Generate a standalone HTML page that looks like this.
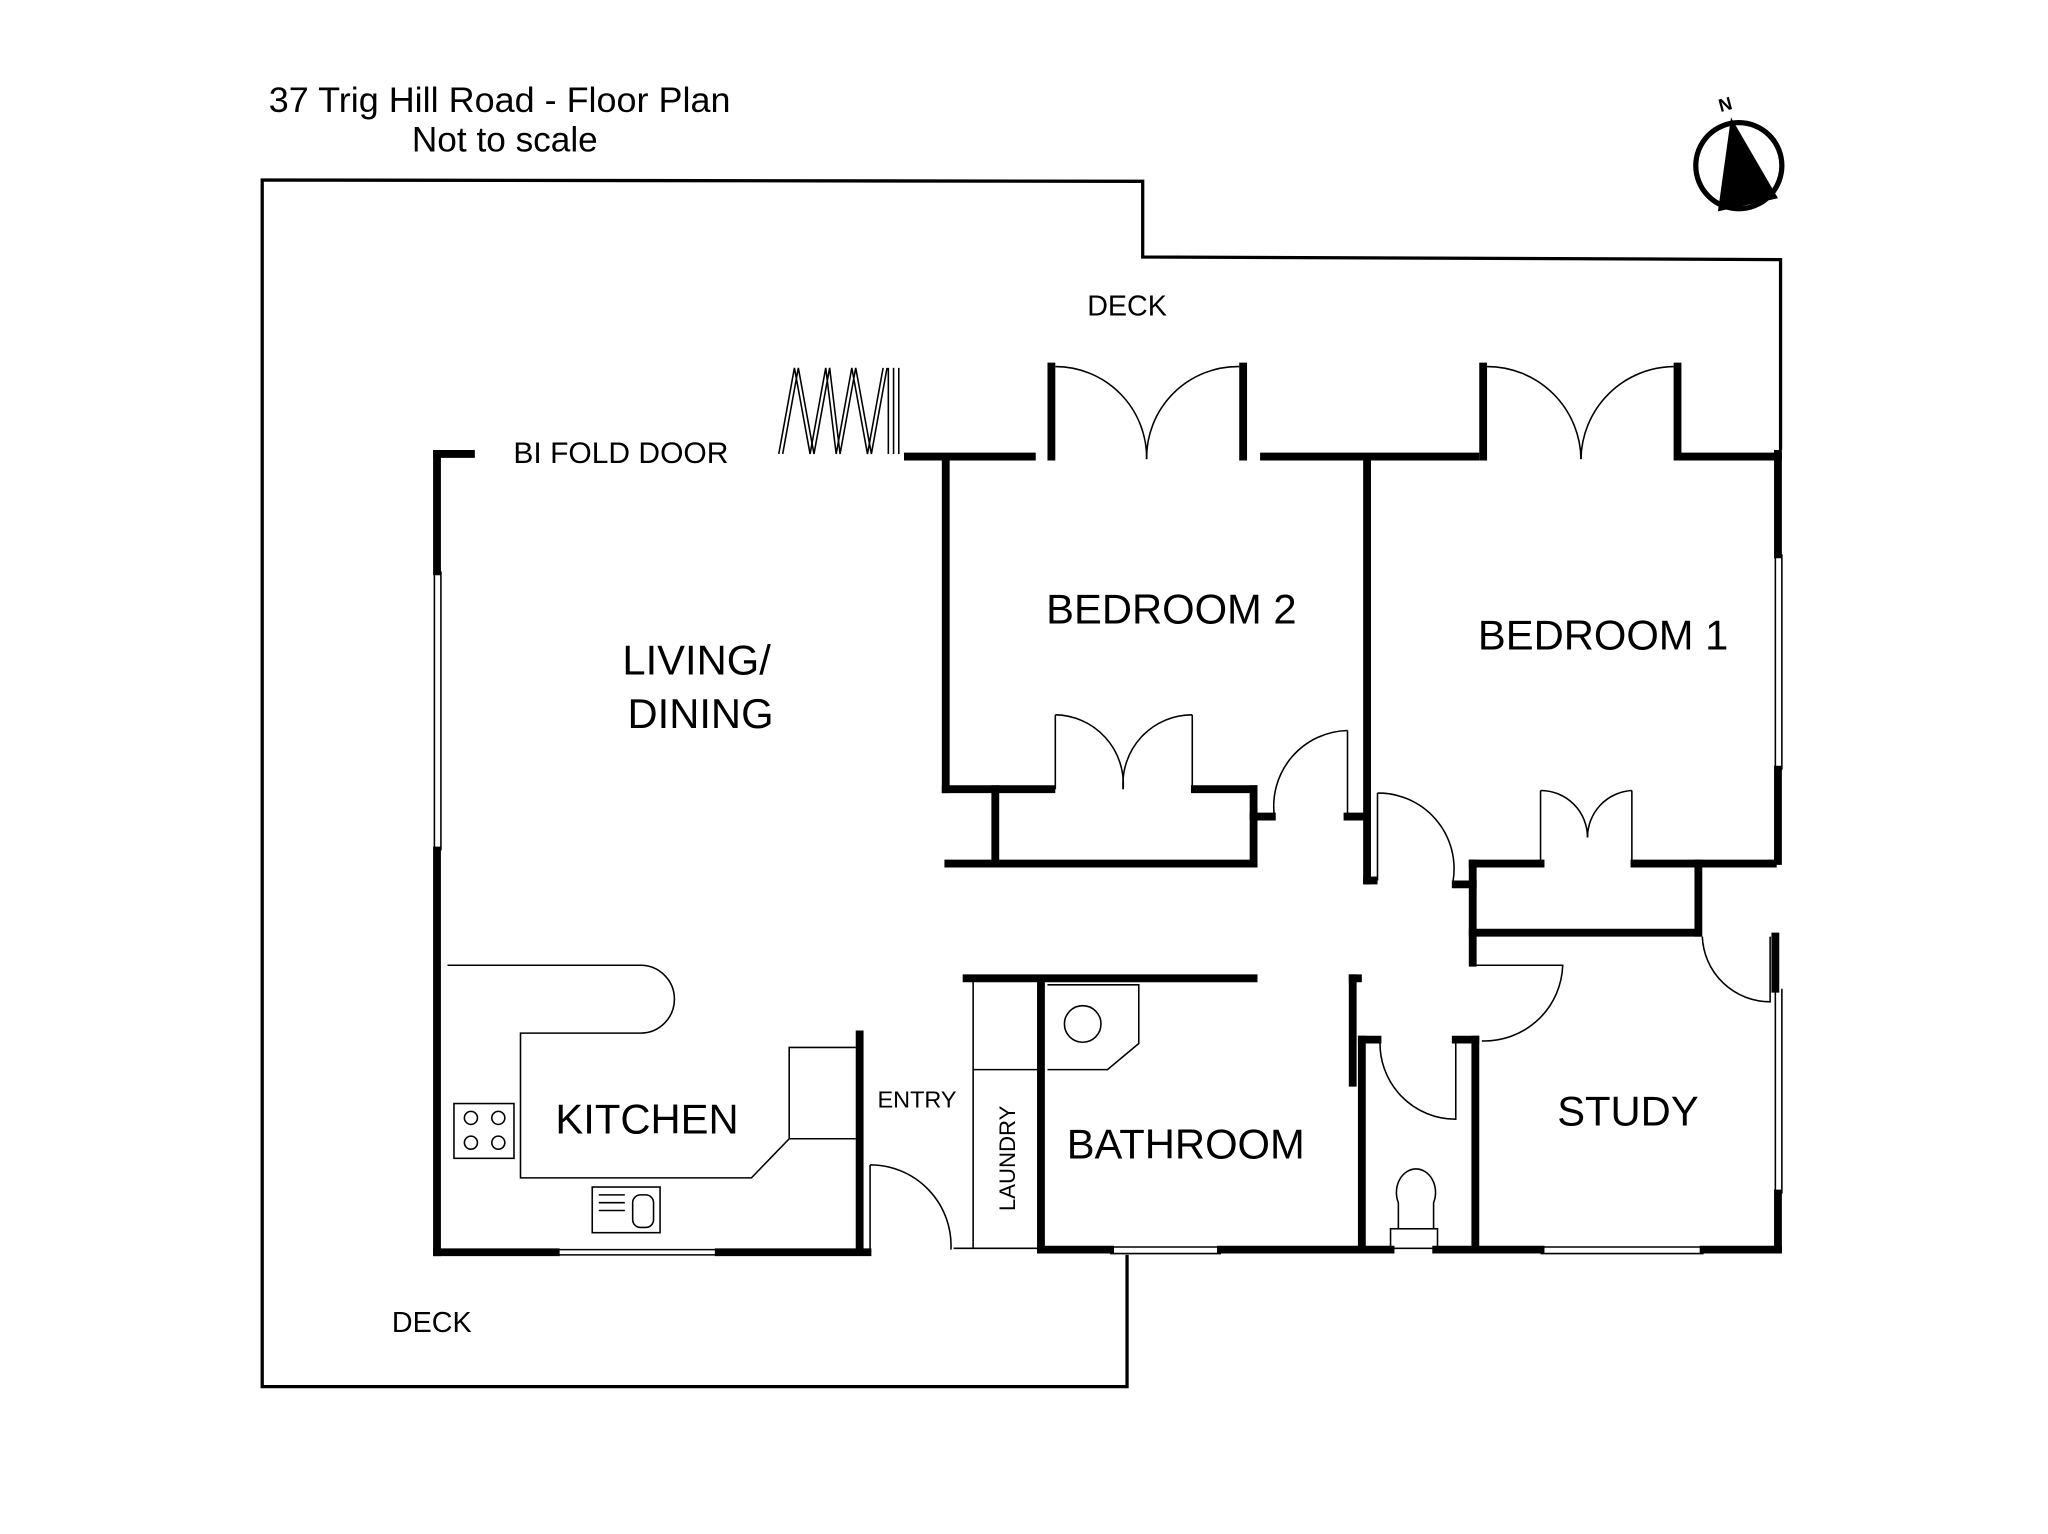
<!DOCTYPE html>
<html><head><meta charset="utf-8"><style>
html,body{margin:0;padding:0;background:#fff;}
svg{display:block;}
text{font-family:"Liberation Sans",sans-serif;fill:#000;}
</style></head><body>
<svg width="2048" height="1534" viewBox="0 0 1568 1176" xmlns="http://www.w3.org/2000/svg">
<rect width="1568" height="1176" fill="#fff"/>
<text x="382" y="86" font-size="27" text-anchor="middle" textLength="354" lengthAdjust="spacingAndGlyphs">37 Trig Hill Road - Floor Plan</text>
<text x="386" y="116" font-size="27" text-anchor="middle">Not to scale</text>
<circle cx="1332" cy="127" r="33" fill="none" stroke="#000" stroke-width="4"/>
<polygon points="1326,90 1316,162 1362,152" fill="#000"/>
<text x="1318" y="86" font-size="14" font-weight="bold" transform="rotate(-15 1318 86)">N</text>
<g fill="none" stroke="#000" stroke-width="2.5">
<polyline points="1364,345 1364,199 875,197 875,139 200,138 200,1063 863,1063 863,962"/>
</g>
<text x="863" y="242" font-size="22" text-anchor="middle">DECK</text>
<text x="330" y="1021" font-size="22" text-anchor="middle">DECK</text>
<text x="475" y="355" font-size="23" text-anchor="middle">BI FOLD DOOR</text>
<g stroke="#000" stroke-width="6" fill="none" stroke-linecap="square">
<line x1="334" y1="348" x2="360" y2="348"/>
<line x1="334" y1="348" x2="334" y2="438"/>
<line x1="334" y1="652" x2="334" y2="960"/>
<line x1="334" y1="960" x2="425" y2="960"/>
<line x1="550" y1="960" x2="664" y2="960"/>
<line x1="658" y1="793" x2="658" y2="958"/>
<line x1="797" y1="958" x2="850" y2="958"/>
<line x1="935" y1="958" x2="1065" y2="958"/>
<line x1="1100" y1="958" x2="1180" y2="958"/>
<line x1="1305" y1="958" x2="1362" y2="958"/>
<line x1="1362" y1="348" x2="1362" y2="425"/>
<line x1="1362" y1="590" x2="1362" y2="660"/>
<line x1="1360" y1="718" x2="1360" y2="758"/>
<line x1="1362" y1="915" x2="1362" y2="958"/>
<line x1="695" y1="350" x2="790" y2="350"/>
<line x1="968" y1="350" x2="1130" y2="350"/>
<line x1="1290" y1="350" x2="1362" y2="350"/>
<line x1="805" y1="281" x2="805" y2="350"/>
<line x1="952" y1="281" x2="952" y2="350"/>
<line x1="1136" y1="281" x2="1136" y2="350"/>
<line x1="1285" y1="281" x2="1285" y2="350"/>
<line x1="724" y1="352" x2="724" y2="605"/>
<line x1="724" y1="605" x2="805" y2="605"/>
<line x1="915" y1="605" x2="960" y2="605"/>
<line x1="960" y1="605" x2="960" y2="662"/>
<line x1="762" y1="605" x2="762" y2="662"/>
<line x1="726" y1="662" x2="960" y2="662"/>
<line x1="960" y1="626" x2="974" y2="626"/>
<line x1="1047" y1="352" x2="1047" y2="675"/>
<line x1="1047" y1="675" x2="1052" y2="675"/>
<line x1="1032" y1="626" x2="1045" y2="626"/>
<line x1="1128" y1="662" x2="1180" y2="662"/>
<line x1="1252" y1="662" x2="1358" y2="662"/>
<line x1="1115" y1="678" x2="1128" y2="678"/>
<line x1="1128" y1="662" x2="1128" y2="738"/>
<line x1="1128" y1="715" x2="1300" y2="715"/>
<line x1="1301" y1="662" x2="1301" y2="715"/>
<line x1="740" y1="750" x2="960" y2="750"/>
<line x1="797" y1="752" x2="797" y2="958"/>
<line x1="1036" y1="750" x2="1036" y2="830"/>
<line x1="1036" y1="750" x2="1040" y2="750"/>
<line x1="1043" y1="797" x2="1043" y2="955"/>
<line x1="1043" y1="797" x2="1055" y2="797"/>
<line x1="1115" y1="797" x2="1130" y2="797"/>
<line x1="1130" y1="797" x2="1130" y2="955"/>
</g>
<g stroke="#000" stroke-width="1.2" fill="none">
<line x1="332" y1="438" x2="332" y2="652"/><line x1="337" y1="438" x2="337" y2="652"/>
<line x1="425" y1="958" x2="550" y2="958"/><line x1="425" y1="962" x2="550" y2="962"/>
<line x1="850" y1="956" x2="935" y2="956"/><line x1="850" y1="961" x2="935" y2="961"/>
<line x1="1180" y1="956" x2="1305" y2="956"/><line x1="1180" y1="961" x2="1305" y2="961"/>
<line x1="1360" y1="425" x2="1360" y2="590"/><line x1="1365" y1="425" x2="1365" y2="590"/>
<line x1="1360" y1="758" x2="1360" y2="915"/><line x1="1365" y1="758" x2="1365" y2="915"/>
<line x1="730" y1="957" x2="797" y2="957"/>
<line x1="745" y1="752" x2="745" y2="957"/>
<line x1="745" y1="820" x2="797" y2="820"/>
<polyline points="596,348 608,282 620,348 632,282 640,348 652,282 664,348 676,282"/>
<polyline points="599,348 611,282 623,348 635,282 643,348 655,282 667,348 679,282"/>
<line x1="680" y1="282" x2="680" y2="348"/><line x1="684" y1="282" x2="684" y2="348"/><line x1="688" y1="282" x2="688" y2="348"/>
<path d="M808,281 A70,70 0 0 1 878,352"/>
<path d="M949,281 A70,70 0 0 0 878,352"/>
<path d="M1139,281 A72,72 0 0 1 1211,352"/>
<path d="M1282,281 A72,72 0 0 0 1211,352"/>
<path d="M808,548 L808,605"/><path d="M808,548 A53,53 0 0 1 860,605"/>
<path d="M913,548 L913,605"/><path d="M913,548 A53,53 0 0 0 860,605"/>
<path d="M1032,560 L1032,626"/><path d="M1032,560 A58,58 0 0 0 976,626"/>
<path d="M1055,608 L1055,675"/><path d="M1055,608 A58,58 0 0 1 1113,675"/>
<path d="M1180,606 L1180,662"/><path d="M1180,606 A36,36 0 0 1 1216,642"/>
<path d="M1250,606 L1250,662"/><path d="M1250,606 A36,36 0 0 0 1216,642"/>
<path d="M1130,740 L1197,740 A60,60 0 0 1 1135,798"/>
<path d="M1057,797 A58,58 0 0 0 1115,858 L1115,797"/>
<path d="M1304,718 A52,52 0 0 0 1356,768 L1356,718"/>
<path d="M666,893 L666,958 M666,893 A62,62 0 0 1 728,958"/>
<path d="M342,740 L490,740 A26,26 0 0 1 490,792 L398,792 L398,903 L575,903 L604,873 L655,873"/>
<path d="M604,873 L604,803 L655,803"/>
<rect x="347" y="846" width="46" height="42"/>
<circle cx="360" cy="857" r="5"/><circle cx="381" cy="857" r="5"/><circle cx="360" cy="876" r="5"/><circle cx="381" cy="876" r="5"/>
<rect x="453" y="910" width="52" height="35"/>
<line x1="458" y1="916" x2="478" y2="916"/><line x1="458" y1="922" x2="478" y2="922"/><line x1="458" y1="928" x2="478" y2="928"/>
<rect x="484" y="916" width="16" height="25" rx="6"/>
<path d="M802,755 L872,755 L872,800 L848,820 L802,820"/>
<circle cx="829" cy="785" r="14"/>
<path d="M1071,942 L1071,922 A15,18 0 1 1 1098,922 L1098,942"/>
<rect x="1065" y="942" width="36" height="15"/>
</g>
<g font-size="32" text-anchor="middle">
<text x="533" y="517">LIVING/</text>
<text x="536" y="558">DINING</text>
<text x="897" y="478">BEDROOM 2</text>
<text x="1228" y="498">BEDROOM 1</text>
<text x="495" y="869">KITCHEN</text>
<text x="908" y="888">BATHROOM</text>
<text x="1247" y="863">STUDY</text>
</g>
<text x="702" y="849" font-size="18" text-anchor="middle">ENTRY</text>
<text x="777" y="888" font-size="17" text-anchor="middle" transform="rotate(-90 777 888)">LAUNDRY</text>
</svg>
</body></html>
